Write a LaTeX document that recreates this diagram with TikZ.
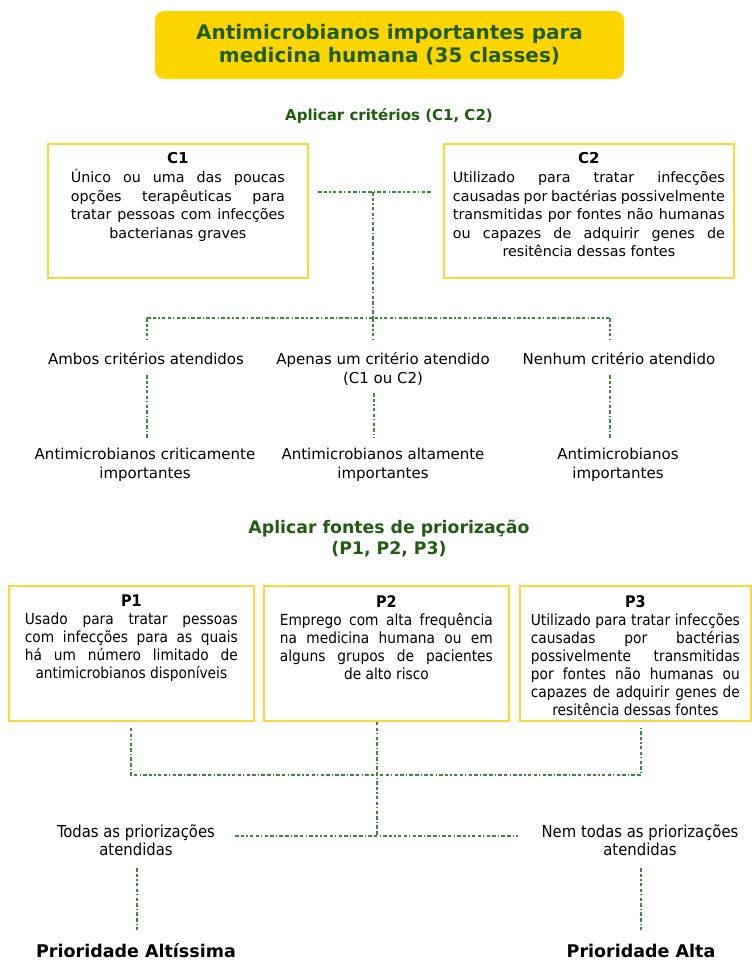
\documentclass[tikz,border=0pt]{standalone}
\usepackage{fontspec}
\setmainfont{DejaVu Sans}
\newfontfamily\condf{DejaVu Sans Condensed}
\definecolor{ttlyellow}{HTML}{FFD500}
\definecolor{boxyellow}{HTML}{FFD633}
\definecolor{dkgreen}{HTML}{1E5E0E}
\definecolor{dashgreen}{HTML}{3A8A3A}
\newcommand{\jl}[1]{\makebox[\linewidth][s]{#1}}
\newcommand{\cl}[1]{\makebox[\linewidth][c]{#1}}
\begin{document}
\begin{tikzpicture}[x=1pt,y=-1pt,
  conn/.style={draw=dashgreen, line width=1.1pt, dash pattern=on 3.5pt off 2.2pt on 3.5pt off 2.2pt on 1.2pt off 2.2pt},
  titlebox/.style={fill=ttlyellow, rounded corners=9pt, minimum width=469pt, minimum height=68pt, text=dkgreen, font=\fontsize{20}{23}\selectfont\bfseries, align=center},
  greenhead/.style={text=dkgreen, align=center, inner sep=0pt},
  critbox/.style={draw=boxyellow, line width=1.8pt, anchor=north west, inner xsep=0pt, inner ysep=0pt},
  lbl/.style={align=center, inner sep=0pt, font=\fontsize{15}{18.5}\selectfont},
  clbl/.style={align=center, inner sep=0pt, font=\condf\fontsize{16.5}{18}\selectfont},
  prio/.style={inner sep=0pt, text depth=0pt, font=\fontsize{17.5}{20}\selectfont\bfseries}]
\useasboundingbox (0,0) rectangle (752,961);

% title
\node[titlebox] (title) at (389.5,45) {Antimicrobianos importantes para\\medicina humana (35 classes)};
\node[greenhead, anchor=base, font=\fontsize{15}{18}\selectfont\bfseries] (apc) at (389,120) {Aplicar critérios (C1, C2)};

% criteria boxes
\node[critbox, minimum width=260pt, minimum height=134pt] (c1) at (47,143) {};
\node[anchor=north, inner sep=0pt, font=\fontsize{14.3}{18.5}\selectfont] (c1t) at ([yshift=-9pt]c1.north) {\parbox[t]{214pt}{\centering
  {\fontsize{15}{18.5}\selectfont\textbf{C1}}\\[1pt]
  \jl{Único ou uma das poucas}\\
  \jl{opções terapêuticas para}\\
  \jl{tratar pessoas com infecções}\\
  \cl{bacterianas graves}}};
\node[critbox, minimum width=290pt, minimum height=134pt] (c2) at (443,143) {};
\node[anchor=north, inner sep=0pt, font=\fontsize{14.3}{18.5}\selectfont] (c2t) at ([yshift=-9pt]c2.north) {\parbox[t]{272pt}{\centering
  {\fontsize{15}{18.5}\selectfont\textbf{C2}}\\[1pt]
  \jl{Utilizado para tratar infecções}\\
  \jl{causadas por bactérias possivelmente}\\
  \jl{transmitidas por fontes não humanas}\\
  \jl{ou capazes de adquirir genes de}\\
  \cl{resitência dessas fontes}}};

% criteria tree
\coordinate (ca) at (318,192);
\coordinate (cb) at (432,192);
\coordinate (cj) at (373,192);
\coordinate (tj) at (373,318);
\coordinate (tl) at (147,318);
\coordinate (tr) at (610,318);
\draw[conn] (ca) -- (cb);
\draw[conn] (cj) -- (tj);
\draw[conn] (tl) -- (tr);

\node[lbl, anchor=base] (ambos) at (146,364) {Ambos critérios atendidos};
\node[lbl, anchor=base] (apenas) at (383,383) {Apenas um critério atendido\\(C1 ou C2)};
\node[lbl, anchor=base] (nenhum) at (619,364) {Nenhum critério atendido};

\draw[conn] (tl) -- (147,340);
\draw[conn] (tj) -- (373,340);
\draw[conn] (tr) -- (610,340);

\node[lbl, anchor=base] (crit) at (145,478) {Antimicrobianos criticamente\\importantes};
\node[lbl, anchor=base] (alta) at (383,478) {Antimicrobianos altamente\\importantes};
\node[lbl, anchor=base] (imp) at (618,478) {Antimicrobianos\\importantes};

\draw[conn] (147,375) -- (147,438);
\draw[conn] (374,393) -- (374,438);
\draw[conn] (610,375) -- (610,438);

% priorization
\node[greenhead, anchor=base, font=\fontsize{17.3}{21}\selectfont\bfseries] (apf) at (389,554) {Aplicar fontes de priorização\\(P1, P2, P3)};

\node[critbox, minimum width=245pt, minimum height=135pt] (p1) at (8,585) {};
\node[anchor=north, inner sep=0pt, font=\condf\fontsize{15.3}{18}\selectfont] (p1t) at ([yshift=-10pt]p1.north) {\parbox[t]{213pt}{\centering
  {\fontsize{16}{18}\selectfont\textbf{P1}}\\
  \jl{Usado para tratar pessoas}\\
  \jl{com infecções para as quais}\\
  \jl{há um número limitado de}\\
  \cl{antimicrobianos disponíveis}}};
\node[critbox, minimum width=245pt, minimum height=135pt] (p2) at (263,585) {};
\node[anchor=north, inner sep=0pt, font=\condf\fontsize{15.3}{18}\selectfont] (p2t) at ([yshift=-10pt]p2.north) {\parbox[t]{213pt}{\centering
  {\fontsize{16}{18}\selectfont\textbf{P2}}\\
  \jl{Emprego com alta frequência}\\
  \jl{na medicina humana ou em}\\
  \jl{alguns grupos de pacientes}\\
  \cl{de alto risco}}};
\node[critbox, minimum width=231pt, minimum height=135pt] (p3) at (519,585) {};
\node[anchor=north, inner sep=0pt, font=\condf\fontsize{15.3}{18}\selectfont] (p3t) at ([yshift=-10pt]p3.north) {\parbox[t]{209pt}{\centering
  {\fontsize{16}{18}\selectfont\textbf{P3}}\\
  \jl{Utilizado para tratar infecções}\\
  \jl{causadas por bactérias}\\
  \jl{possivelmente transmitidas}\\
  \jl{por fontes não humanas ou}\\
  \jl{capazes de adquirir genes de}\\
  \cl{resitência dessas fontes}}};

\coordinate (pl) at (131,775);
\coordinate (pr) at (641,775);
\coordinate (pj) at (377,836);
\coordinate (hl) at (235,836);
\coordinate (hr) at (518,836);
\draw[conn] ([yshift=-6pt]p1.south -| pl) -- (pl) -- (pr) -- ([yshift=-6pt]p3.south -| pr);
\draw[conn] (p2.south -| pj) -- (pj);
\draw[conn] (hl) -- (hr);

\node[clbl, anchor=base] (todas) at (136,855) {Todas as priorizações\\atendidas};
\node[clbl, anchor=base] (nemtodas) at (640,855) {Nem todas as priorizações\\atendidas};

\draw[conn] (137,868) -- (137,930);
\draw[conn] (641,868) -- (641,930);

\node[prio, anchor=base] (altissima) at (136,957) {Prioridade Altíssima};
\node[prio, anchor=base] (altap) at (641,957) {Prioridade Alta};
\end{tikzpicture}
\end{document}
